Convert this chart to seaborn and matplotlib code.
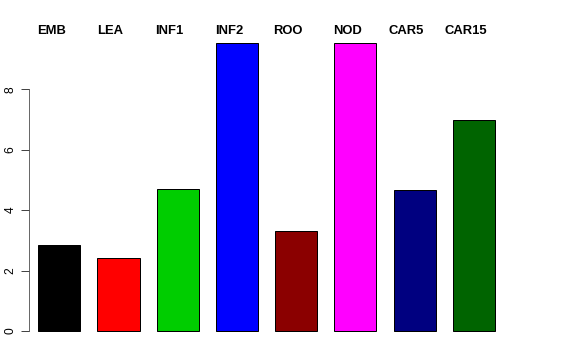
import matplotlib
matplotlib.use('Agg')
import matplotlib.pyplot as plt
import matplotlib.transforms as mtransforms
import seaborn as sns

# bar heights
tissues = ['EMB', 'LEA', 'INF1', 'INF2', 'ROO', 'NOD', 'CAR5', 'CAR15']
values = [2.85, 2.41, 4.69, 9.53, 3.30, 9.55, 4.67, 6.99]
bar_colors = ['#000000', '#FF0000', '#00CD00', '#0000FF',
              '#8B0000', '#FF00FF', '#000080', '#006400']
yticks = [0, 2, 4, 6, 8]

sns.set_style('ticks')
plt.rcParams['font.family'] = ['Liberation Sans', 'DejaVu Sans']
plt.rcParams['text.color'] = 'black'
plt.rcParams['ytick.labelcolor'] = 'black'

fig = plt.figure(figsize=(8, 5), dpi=72)
ax = fig.add_axes([0.0498, 0.0486, 0.8257, 0.865])

sns.barplot(x=tissues, y=values, hue=tissues, palette=bar_colors, legend=False,
            width=0.71, saturation=1, edgecolor='black', linewidth=1, ax=ax)

ax.set_xlim(-0.517, 7.515)
ax.set_ylim(-0.382, 9.93)

# R-like axis: only left axis, line spans the ticks
sns.despine(ax=ax, bottom=True)
ax.spines['left'].set_bounds(0, 8)
ax.spines['left'].set_color('#444444')
ax.set_yticks(yticks)
ax.set_yticklabels([str(t) for t in yticks], rotation=90, va='center')
ax.tick_params(axis='y', length=8, width=1, color='#444444', pad=4,
               labelsize=12, labelcolor='black')
ax.set_xticks([])
ax.set_xlabel('')
ax.set_ylabel('')

# names above the plot, shifted a bit left of bar centers as in the original
trans = mtransforms.blended_transform_factory(ax.transData, ax.transAxes)
trans = mtransforms.offset_copy(trans, fig=fig, x=-8, y=0, units='dots')
for i, name in enumerate(tissues):
    ax.text(i, 0.991, name, transform=trans, ha='center', va='baseline',
            fontsize=13, fontweight='bold', color='black')

fig.savefig('out.png', dpi=72)
